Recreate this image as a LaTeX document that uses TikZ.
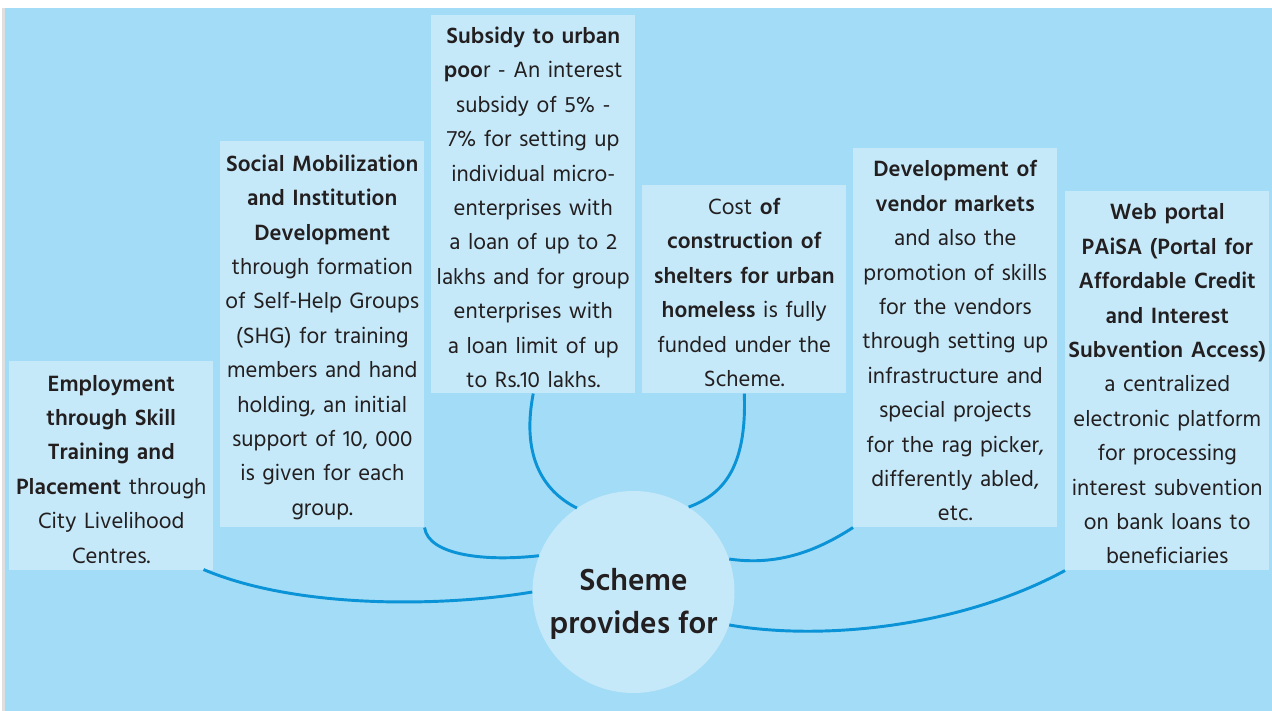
\documentclass[tikz,border=0pt]{standalone}
\usepackage{fontspec}
\setmainfont{Hind Madurai}
\usetikzlibrary{positioning,calc}
\definecolor{sheet}{HTML}{A3DCF6}
\definecolor{card}{HTML}{C6E9F9}
\definecolor{wire}{HTML}{0A93D6}
\definecolor{ink}{HTML}{231F20}
\tikzset{
  infobox/.style={fill=card,text=ink,inner sep=0pt,align=center,anchor=north west,
    text width=152pt,minimum width=153pt,font=\fontsize{17pt}{25.8pt}\selectfont,
    execute at begin node={\rule{0pt}{17pt}}},
  hubnode/.style={circle,fill=card,text=ink,inner sep=0pt,minimum size=151.5pt,
    align=center,font=\fontsize{23.5pt}{32pt}\selectfont\bfseries},
  link/.style={draw=wire,line width=2.2pt}
}
\begin{document}
\begin{tikzpicture}[x=0.75pt,y=-0.75pt]
  \useasboundingbox (0,0) rectangle (1272,711);
  \fill[gray!25] (2,8) rectangle (5,711);
  \fill[sheet] (5,8) rectangle (1272,711);
  % the six boxes
  \node[infobox,minimum height=156.75pt] (emp) at (9,361)
    {\textbf{Employment}\\\textbf{through Skill}\\\textbf{Training and}\\
     \textbf{Placement} through\\City Livelihood\\Centres.};
  \node[infobox,minimum height=289.5pt] (shg) at (220,141)
    {\textbf{Social Mobilization}\\\textbf{and Institution}\\\textbf{Development}\\
     through formation\\of Self-Help Groups\\(SHG) for training\\members and hand\\
     holding, an initial\\support of 10, 000\\is given for each\\group.};
  \node[infobox,minimum height=283.5pt] (sub) at (431,15)
    {\textbf{Subsidy to urban}\\\textbf{poo}r - An interest\\subsidy of 5\% -\\
     7\% for setting up\\individual micro-\\enterprises with\\a loan of up to 2\\
     lakhs and for group\\enterprises with\\a loan limit of up\\to Rs.10 lakhs.};
  \node[infobox,minimum height=156pt] (shelter) at (642,185)
    {Cost \textbf{of}\\\textbf{construction of}\\\textbf{shelters for urban}\\
     \textbf{homeless} is fully\\funded under the\\Scheme.};
  \node[infobox,minimum height=284.25pt] (vendor) at (853,148)
    {\textbf{Development of}\\\textbf{vendor markets}\\and also the\\promotion of skills\\
     for the vendors\\through setting up\\infrastructure and\\special projects\\
     for the rag picker,\\differently abled,\\etc.};
  \node[infobox,minimum height=284.25pt] (paisa) at (1065,191)
    {\textbf{Web portal}\\\textbf{PAiSA (Portal for}\\\textbf{Affordable Credit}\\
     \textbf{and Interest}\\\textbf{Subvention Access)}\\a centralized\\
     electronic platform\\for processing\\interest subvention\\on bank loans to\\
     beneficiaries};
  % centre
  \node[hubnode] (hub) at (633.5,592) {\rule{0pt}{34pt}Scheme\\provides for};
  \coordinate (empout) at ($(emp.south east)+(-10,-1)$);
  % links
  \draw[link] (empout) .. controls +(97,41) and +(-83,14) .. (hub.180);
  \draw[link] (shg.south east) .. controls +(4,28) and +(-53,6) .. (hub.159);
  \draw[link] (sub.south) .. controls +(-13,67) and +(-30,-15) .. (hub.124);
  \draw[link] (shelter.south) .. controls +(3,77) and +(32,-12) .. (hub.57);
  \draw[link] (vendor.south west) .. controls +(-43,28) and +(42,6) .. (hub.19);
  \draw[link] (paisa.south west) .. controls +(-105,57) and +(92,16) .. (hub.-19);
\end{tikzpicture}
\end{document}
